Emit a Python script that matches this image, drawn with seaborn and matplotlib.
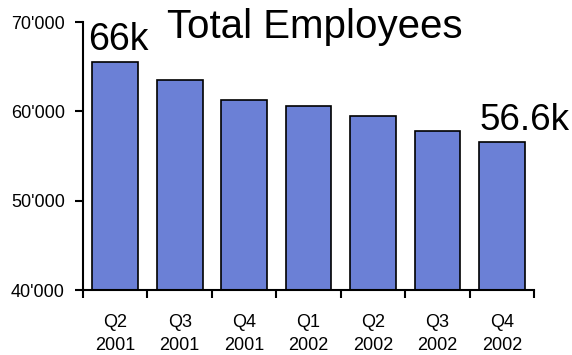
import matplotlib
matplotlib.use("Agg")
import matplotlib.pyplot as plt
import seaborn as sns
import pandas as pd
import numpy as np

categories = ["Q2\n2001", "Q3\n2001", "Q4\n2001", "Q1\n2002", "Q2\n2002", "Q3\n2002", "Q4\n2002"]
employees = [65550, 63550, 61300, 60650, 59500, 57800, 56600]
yticks = [40000, 50000, 60000, 70000]
ytick_labels = ["40'000", "50'000", "60'000", "70'000"]
title = "Total Employees"
first_label = "66k"
last_label = "56.6k"

sns.set_theme(style="ticks")
plt.rcParams['font.family'] = ['Liberation Sans', 'DejaVu Sans']

df = pd.DataFrame({"quarter": categories, "employees": employees})

fig = plt.figure(figsize=(5.72, 3.55), dpi=100)
ax = fig.add_axes([0.145, 0.183, 0.934 - 0.145, 0.938 - 0.183])

sns.barplot(data=df, x="quarter", y="employees", ax=ax, color="#6b80d6",
            saturation=1, width=0.71, edgecolor="black", linewidth=1.2)

ax.set_ylim(40000, 70000)
ax.set_xlim(-0.5, len(categories) - 0.5)
ax.set_yticks(yticks)
ax.set_yticklabels(ytick_labels)
ax.set_xlabel("")
ax.set_ylabel("")

for s in ["top", "right"]:
    ax.spines[s].set_visible(False)
for s in ["left", "bottom"]:
    ax.spines[s].set_linewidth(1.5)
    ax.spines[s].set_color("black")

ax.tick_params(axis="y", direction="out", length=6, width=1.5, color="black",
               labelsize=13, pad=7, labelcolor="black")
ax.tick_params(axis="x", which="major", length=0, labelsize=13, pad=17, labelcolor="black")
ax.set_xticks(np.arange(-0.5, len(categories) + 0.5, 1), minor=True)
ax.tick_params(axis="x", which="minor", direction="out", length=6, width=1.5, color="black")
for lab in ax.get_xticklabels():
    lab.set_linespacing(1.5)

ax.annotate(first_label, xy=(0, employees[0]), xytext=(2, 3), textcoords="offset points",
            ha="center", va="bottom", fontsize=27, color="black")
ax.annotate(last_label, xy=(len(categories) - 1, employees[-1]), xytext=(16, 3),
            textcoords="offset points", ha="center", va="bottom", fontsize=26.5, color="black")

fig.text(315 / 572, 1 - 27 / 355, title, ha="center", va="center", fontsize=29, color="black")

fig.savefig("out.png", dpi=100, facecolor="white")
